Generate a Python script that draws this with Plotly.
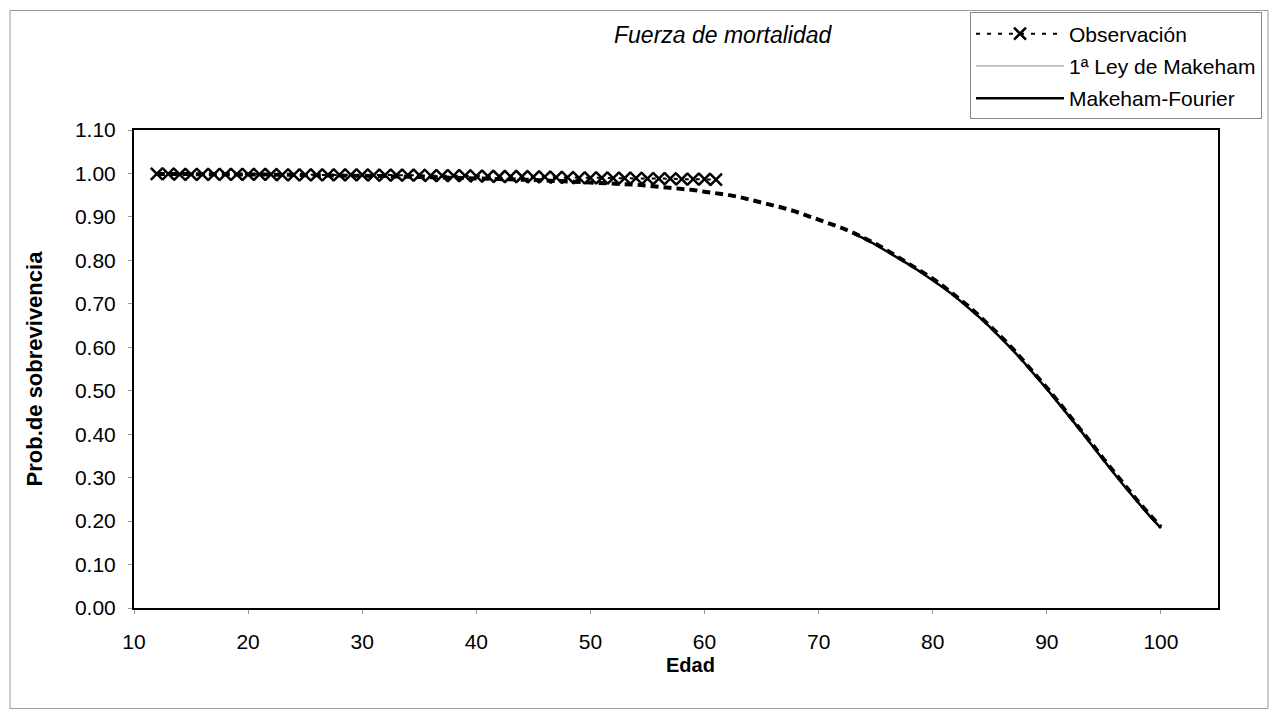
import plotly.graph_objects as go

# ---- data ----
obs_age = list(range(12, 62))
obs_val = [0.999, 0.999, 0.998, 0.998, 0.998, 0.998, 0.998, 0.998, 0.998, 0.998,
           0.998, 0.997, 0.997, 0.997, 0.997, 0.997, 0.997, 0.997, 0.997, 0.996,
           0.996, 0.996, 0.996, 0.996, 0.995, 0.995, 0.995, 0.995, 0.994, 0.994,
           0.993, 0.993, 0.993, 0.992, 0.992, 0.991, 0.991, 0.990, 0.990, 0.990,
           0.989, 0.989, 0.989, 0.988, 0.988, 0.988, 0.987, 0.987, 0.987, 0.986]

mak_age = list(range(12, 101))
mak_val = [0.999, 0.999, 0.999, 0.999, 0.998, 0.998, 0.998, 0.998, 0.998, 0.997,
           0.997, 0.997, 0.997, 0.996, 0.996, 0.996, 0.995, 0.995, 0.995, 0.994,
           0.994, 0.993, 0.993, 0.992, 0.992, 0.991, 0.990, 0.990, 0.989, 0.988,
           0.987, 0.987, 0.986, 0.985, 0.984, 0.983, 0.982, 0.981, 0.980, 0.979,
           0.977, 0.976, 0.974, 0.972, 0.970, 0.968, 0.965, 0.962, 0.958, 0.955,
           0.951, 0.946, 0.940, 0.932, 0.927, 0.920, 0.912, 0.903, 0.894, 0.885,
           0.875, 0.864, 0.852, 0.838, 0.823, 0.807, 0.791, 0.775, 0.758, 0.739,
           0.719, 0.697, 0.674, 0.650, 0.624, 0.597, 0.568, 0.538, 0.507, 0.475,
           0.443, 0.410, 0.376, 0.342, 0.309, 0.277, 0.245, 0.215, 0.186]

mf_age = list(range(73, 101))
mf_val = [0.862, 0.850, 0.836, 0.821, 0.805, 0.789, 0.772, 0.755, 0.736, 0.716,
          0.694, 0.671, 0.647, 0.621, 0.594, 0.565, 0.535, 0.504, 0.472, 0.440,
          0.407, 0.373, 0.339, 0.306, 0.274, 0.242, 0.212, 0.184]

x_ticks = [10, 20, 30, 40, 50, 60, 70, 80, 90, 100]
y_ticks = [0.0, 0.1, 0.2, 0.3, 0.4, 0.5, 0.6, 0.7, 0.8, 0.9, 1.0, 1.1]

FONT = "Liberation Sans, Arial, sans-serif"

fig = go.Figure()

# Observación
fig.add_trace(go.Scatter(
    x=obs_age, y=obs_val, name="Observación", mode="lines+markers",
    legendgroup="a",
    line=dict(color="black", width=2, dash="4px,7px"),
    marker=dict(symbol="x-thin-open", size=12, line=dict(color="black", width=2.5)),
))

# 1ª Ley de Makeham: drawn curve
fig.add_trace(go.Scatter(
    x=mak_age, y=mak_val, name="1ª Ley de Makeham", mode="lines",
    legendgroup="b", showlegend=False,
    line=dict(color="black", width=4, dash="8px,5px"),
))
# legend entry look for the same series
fig.add_trace(go.Scatter(
    x=[None], y=[None], name="1ª Ley de Makeham", mode="lines",
    legendgroup="b",
    line=dict(color="#888888", width=1),
))

# Makeham-Fourier
fig.add_trace(go.Scatter(
    x=mf_age, y=mf_val, name="Makeham-Fourier", mode="lines",
    legendgroup="c",
    line=dict(color="black", width=2.5),
))

fig.update_layout(
    width=1277, height=712,
    margin=dict(l=134, r=59, t=128, b=104),
    paper_bgcolor="white", plot_bgcolor="white",
    font=dict(family=FONT, size=21, color="black"),
    showlegend=True,
    legend=dict(
        x=(970 - 134) / 1084, y=(608 - 10) / 480,
        xanchor="left", yanchor="top",
        bgcolor="white", bordercolor="#888888", borderwidth=1,
        font=dict(family=FONT, size=21, color="black"),
        itemwidth=88, traceorder="grouped", tracegroupgap=2,
    ),
    annotations=[
        dict(
            text="<i>Fuerza de mortalidad</i>", xref="paper", yref="paper",
            x=(723 - 134) / 1084, y=(608 - 33) / 480,
            xanchor="center", yanchor="middle", showarrow=False,
            font=dict(family=FONT, size=23, color="black"),
        ),
        dict(
            text="<b>Edad</b>", xref="paper", yref="paper",
            x=(690 - 134) / 1084, y=(608 - 665) / 480,
            xanchor="center", yanchor="middle", showarrow=False,
            font=dict(family=FONT, size=20, color="black"),
        ),
    ],
    shapes=[dict(
        type="rect", xref="paper", yref="paper",
        x0=(10 - 134) / 1084, x1=(1268 - 134) / 1084,
        y0=(608 - 709) / 480, y1=(608 - 8) / 480,
        line=dict(color="#999999", width=1), layer="below",
    )],
)

fig.update_xaxes(
    range=[10, 105], tickvals=x_ticks, ticktext=[str(v) for v in x_ticks],
    showgrid=False, zeroline=False,
    showline=True, linecolor="black", linewidth=2, mirror=True,
    ticks="outside", ticklen=4, tickcolor="#999999",
    tickfont=dict(family=FONT, size=21), ticklabelstandoff=10,
)
fig.update_yaxes(
    range=[0, 1.1], tickvals=y_ticks, ticktext=[f"{v:.2f}" for v in y_ticks],
    showgrid=False, zeroline=False,
    showline=True, linecolor="black", linewidth=2, mirror=True,
    ticks="outside", ticklen=4, tickcolor="#999999",
    tickfont=dict(family=FONT, size=21), ticklabelstandoff=8,
    title=dict(text="<b>Prob.de sobrevivencia</b>", standoff=26,
               font=dict(family=FONT, size=22)),
)

fig.write_html("out.html")
